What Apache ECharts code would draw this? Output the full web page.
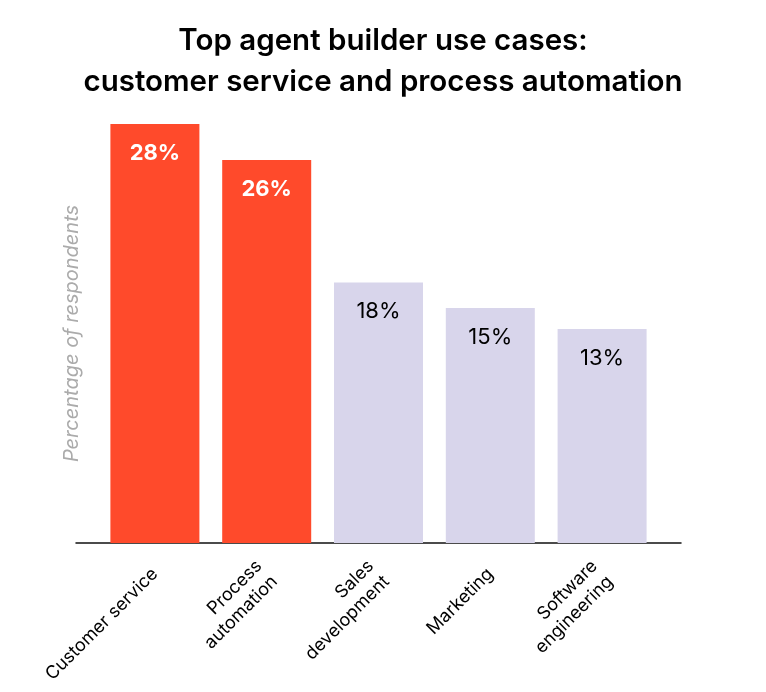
<!DOCTYPE html>
<html>
<head>
<meta charset="utf-8">
<script src="https://cdn.jsdelivr.net/npm/echarts@6/dist/echarts.min.js"></script>
<style>
  html, body { margin: 0; padding: 0; background: #fff; }
  #chart { width: 766px; height: 692px; }
</style>
</head>
<body>
<div id="chart"></div>
<script>
// use cases, bar heights, printed labels
const categories = ['Customer service', 'Process\nautomation', 'Sales\ndevelopment', 'Marketing', 'Software\nengineering']
const values = [28, 25.6, 17.4, 15.7, 14.3]
const valueLabels = ['28%', '26%', '18%', '15%', '13%']
const highlighted = [true, true, false, false, false]

const RED = '#FF4A2B'
const LAVENDER = '#D8D5EB'
const FONT = 'Inter, "Noto Sans", sans-serif'

const chart = echarts.init(document.getElementById('chart'))

let option = {
  backgroundColor: '#fff',
  animation: false,
  title: {
    text: 'Top agent builder use cases:\ncustomer service and process automation',
    left: 'center',
    top: 16,
    textStyle: {
      fontFamily: FONT,
      fontSize: 29.5,
      fontWeight: 600,
      color: '#000',
      lineHeight: 41
    }
  },
  grid: [
    // wide grid only for the baseline
    { left: 76, right: 85, top: 124, bottom: 149 },
    // bars
    { left: 99, right: 108, top: 124, bottom: 149 }
  ],
  xAxis: [
    {
      gridIndex: 0,
      type: 'category',
      data: [''],
      axisLine: { show: true, lineStyle: { color: '#111', width: 1.5 } },
      axisTick: { show: false },
      axisLabel: { show: false }
    },
    {
      gridIndex: 1,
      type: 'category',
      data: categories,
      axisLine: { show: false },
      axisTick: { show: false },
      axisLabel: {
        interval: 0,
        rotate: 45,
        align: 'right',
        margin: 28,
        fontFamily: FONT,
        fontSize: 18,
        lineHeight: 22,
        color: '#000'
      }
    }
  ],
  yAxis: [
    {
      gridIndex: 0,
      type: 'value',
      min: 0,
      max: 28,
      show: false
    },
    {
      gridIndex: 1,
      type: 'value',
      min: 0,
      max: 28,
      name: 'Percentage of respondents',
      nameLocation: 'middle',
      nameGap: 17,
      nameTextStyle: {
        fontFamily: FONT,
        fontSize: 20,
        fontStyle: 'italic',
        color: '#ABABAB'
      },
      axisLine: { show: false },
      axisTick: { show: false },
      axisLabel: { show: false },
      splitLine: { show: false }
    }
  ],
  series: [
    {
      type: 'bar',
      xAxisIndex: 1,
      yAxisIndex: 1,
      barWidth: 89,
      data: values.map((v, i) => ({
        value: v,
        itemStyle: { color: highlighted[i] ? RED : LAVENDER },
        label: {
          color: highlighted[i] ? '#fff' : '#000',
          fontWeight: highlighted[i] ? 'bold' : 'normal'
        }
      })),
      label: {
        show: true,
        position: 'insideTop',
        distance: 18,
        fontFamily: FONT,
        fontSize: 22,
        formatter: p => valueLabels[p.dataIndex]
      }
    }
  ]
}

chart.setOption(option)
</script>
</body>
</html>
